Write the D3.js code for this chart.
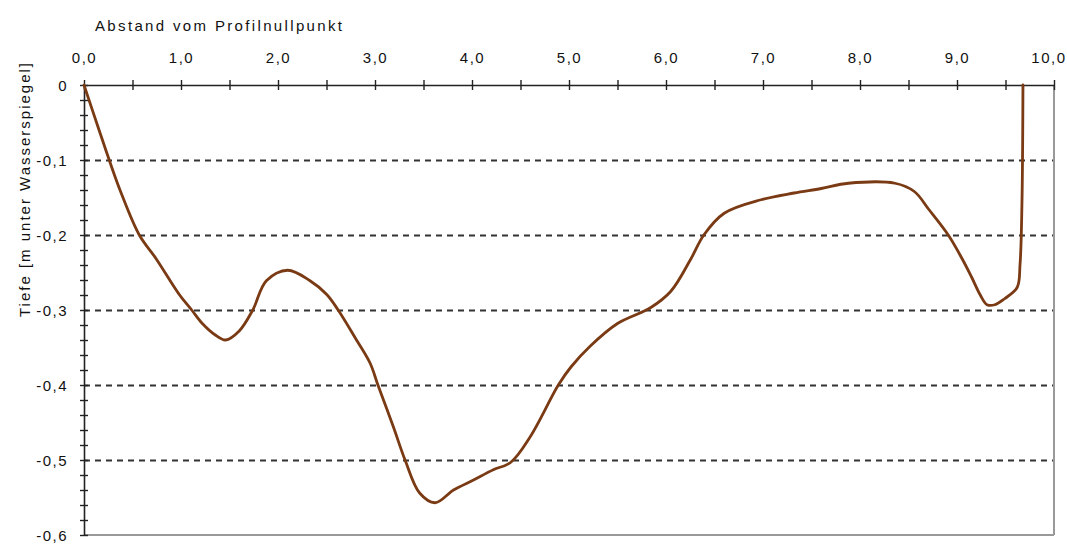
<!DOCTYPE html>
<html>
<head>
<meta charset="utf-8">
<script src="https://cdn.jsdelivr.net/npm/d3@7"></script>
<style>
  html, body { margin: 0; padding: 0; background: #fff; }
  svg { display: block; font-family: "Liberation Sans", Arial, sans-serif; }
</style>
</head>
<body>
<svg id="chart" width="1067" height="549"></svg>
<script>
// ---- data ----
const distX = [0.00, 0.15, 0.26, 0.38, 0.57, 0.74, 0.98, 1.11, 1.22, 1.35, 1.46, 1.60, 1.74, 1.88, 2.10, 2.33, 2.50, 2.62, 2.80, 2.95, 3.03, 3.19, 3.31, 3.46, 3.62, 3.81, 4.01, 4.22, 4.40, 4.60, 4.89, 5.02, 5.22, 5.50, 5.84, 6.05, 6.26, 6.39, 6.60, 6.98, 7.32, 7.60, 7.88, 8.36, 8.56, 8.71, 8.91, 9.05, 9.15, 9.24, 9.31, 9.39, 9.49, 9.62, 9.65, 9.67, 9.68];
const depthY = [0.000, -0.058, -0.100, -0.143, -0.200, -0.231, -0.279, -0.300, -0.318, -0.333, -0.340, -0.328, -0.300, -0.261, -0.247, -0.261, -0.279, -0.300, -0.338, -0.371, -0.400, -0.456, -0.500, -0.544, -0.557, -0.540, -0.527, -0.513, -0.503, -0.469, -0.400, -0.376, -0.348, -0.318, -0.297, -0.275, -0.231, -0.200, -0.171, -0.153, -0.144, -0.138, -0.131, -0.131, -0.142, -0.166, -0.200, -0.231, -0.256, -0.280, -0.293, -0.293, -0.285, -0.270, -0.239, -0.155, 0.000];
const xTickValues = [0, 0.5, 1, 1.5, 2, 2.5, 3, 3.5, 4, 4.5, 5, 5.5, 6, 6.5, 7, 7.5, 8, 8.5, 9, 9.5, 10];
const xLabelValues = [0, 1, 2, 3, 4, 5, 6, 7, 8, 9, 10];
const yTickValues = [0, -0.02, -0.04, -0.06, -0.08, -0.1, -0.12, -0.14, -0.16, -0.18, -0.2, -0.22, -0.24, -0.26, -0.28, -0.3, -0.32, -0.34, -0.36, -0.38, -0.4, -0.42, -0.44, -0.46, -0.48, -0.5, -0.52, -0.54, -0.56, -0.58, -0.6];
const yLabelValues = [0, -0.1, -0.2, -0.3, -0.4, -0.5, -0.6];
const gridValues = [-0.1, -0.2, -0.3, -0.4, -0.5];
const xTitle = "Abstand vom Profilnullpunkt";
const yTitle = "Tiefe [m unter Wasserspiegel]";

(function () {
// ---- layout ----
const mLeft = 84, mRight = 1054, mTop = 85, mBottom = 535;
const svg = d3.select("#chart");

const x = d3.scaleLinear().domain([0, 10]).range([mLeft, mRight]);
const y = d3.scaleLinear().domain([0, -0.6]).range([mTop, mBottom]);

const loc = d3.formatLocale({decimal: ",", thousands: ".", grouping: [3], currency: ["", "€"], minus: "-"});
const f1 = loc.format(".1f");

// grid
svg.append("g").selectAll("line").data(gridValues).join("line")
  .attr("x1", mLeft).attr("x2", mRight)
  .attr("y1", d => Math.round(y(d)) + 0.5).attr("y2", d => Math.round(y(d)) + 0.5)
  .attr("stroke", "#333").attr("stroke-width", 1.8)
  .attr("stroke-dasharray", "6,5");

// right and bottom border (gray)
svg.append("line").attr("x1", mRight).attr("x2", mRight).attr("y1", mTop).attr("y2", mBottom)
  .attr("stroke", "#999").attr("stroke-width", 2);
svg.append("line").attr("x1", mLeft).attr("x2", mRight).attr("y1", mBottom).attr("y2", mBottom)
  .attr("stroke", "#999").attr("stroke-width", 2);

// top axis
const xAxis = d3.axisTop(x).tickValues(xTickValues).tickSizeInner(5).tickSizeOuter(0)
  .tickFormat(d => xLabelValues.includes(d) ? f1(d) : "");
const gx = svg.append("g").attr("transform", `translate(0,${mTop})`).call(xAxis);
gx.select(".domain").attr("stroke", "#222").attr("stroke-width", 1.6);
gx.selectAll(".tick line").attr("y1", 5).attr("y2", -5).attr("stroke", "#222").attr("stroke-width", 1.4);
gx.selectAll(".tick text").attr("y", -22).attr("dy", 0)
  .attr("fill", "#111").style("font-size", "15px").style("letter-spacing", "1.5px");
// keep the last label inside the window
gx.selectAll(".tick text").filter(d => d === 10).attr("text-anchor", "end").attr("x", 12);

// left axis
const yAxis = d3.axisLeft(y).tickValues(yTickValues).tickSizeInner(4).tickSizeOuter(0)
  .tickFormat(d => yLabelValues.some(v => Math.abs(v - d) < 1e-9) ? (d === 0 ? "0" : f1(d)) : "");
const gy = svg.append("g").attr("transform", `translate(${mLeft},0)`).call(yAxis);
gy.select(".domain").attr("stroke", "#222").attr("stroke-width", 1.6);
gy.selectAll(".tick line").attr("x1", 4).attr("x2", -4).attr("stroke", "#222").attr("stroke-width", 1.4);
gy.selectAll(".tick text").attr("x", -16).attr("dy", "0.35em")
  .attr("fill", "#111").style("font-size", "15px").style("letter-spacing", "1.5px");

// titles
svg.append("text").attr("x", 95).attr("y", 31)
  .attr("textLength", 247).attr("lengthAdjust", "spacing")
  .attr("fill", "#111").style("font-size", "15px").text(xTitle);
svg.append("text").attr("transform", "translate(30,190) rotate(-90)")
  .attr("text-anchor", "middle").attr("textLength", 254).attr("lengthAdjust", "spacing")
  .attr("fill", "#111").style("font-size", "15px").text(yTitle);

// profile line
const pts = distX.map((d, i) => [d, depthY[i]]);
const line = d3.line().x(d => x(d[0])).y(d => y(d[1])).curve(d3.curveCatmullRom.alpha(0.5));
svg.append("path").datum(pts).attr("d", line)
  .attr("fill", "none").attr("stroke", "#7a3a14").attr("stroke-width", 2.8)
  .attr("stroke-linejoin", "round").attr("stroke-linecap", "round");
})();
</script>
</body>
</html>
